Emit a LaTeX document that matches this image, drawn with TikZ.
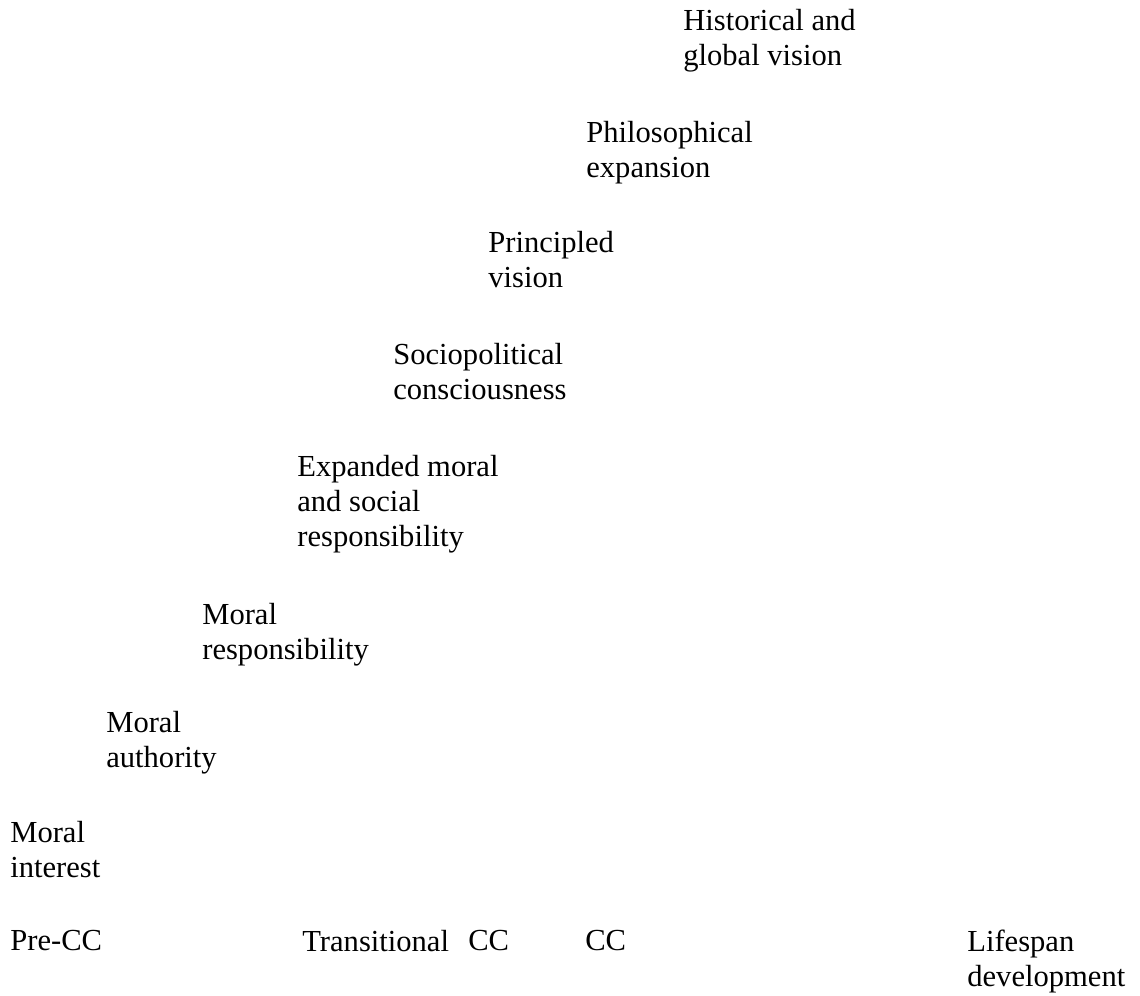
\documentclass[tikz,border=0pt]{standalone}
\usepackage{fontspec}
\setmainfont{Liberation Serif}
\begin{document}
\begin{tikzpicture}[x=0.02cm, y=-0.02cm,
    stage/.style={anchor=north west, inner sep=0pt, align=left,
        font=\fontsize{17.4}{19.9}\selectfont}]

    % Canvas
    \useasboundingbox (0,0) rectangle (1140,995);

    % Stages of moral development, from bottom to top
    \node[stage] (interest) at (10,821) {Moral\\interest};
    \node[stage] (authority) at (106,711) {Moral\\authority};
    \node[stage] (responsibility) at (202,603) {Moral\\responsibility};
    \node[stage] (expanded) at (297,455) {Expanded moral\\and social\\responsibility};
    \node[stage] (sociopolitical) at (393,343) {Sociopolitical\\consciousness};
    \node[stage] (principled) at (488,231) {Principled\\vision};
    \node[stage] (philosophical) at (586,121) {Philosophical\\expansion};
    \node[stage] (historical) at (683,9) {Historical and\\global vision};

    % Labels along the bottom
    \node[stage] (precc) at (10,930) {Pre-CC};
    \node[stage] (transitional) at (302,930) {Transitional};
    \node[stage] (ccone) at (468,930) {CC};
    \node[stage] (cctwo) at (585,930) {CC};
    \node[stage] (lifespan) at (967,930) {Lifespan\\development};

\end{tikzpicture}
\end{document}
